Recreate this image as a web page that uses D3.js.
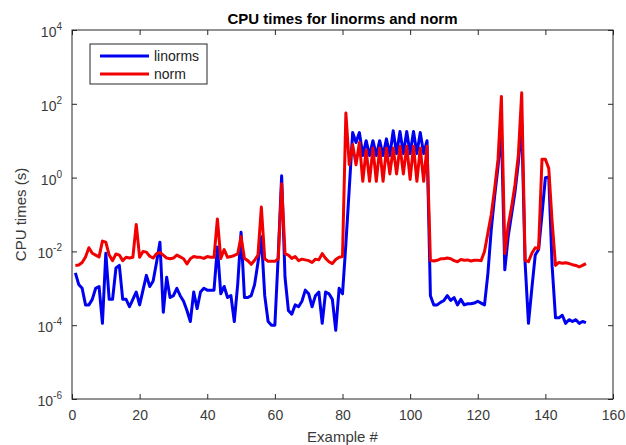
<!DOCTYPE html>
<html>
<head>
<meta charset="utf-8">
<script src="https://cdn.jsdelivr.net/npm/d3@7"></script>
<style>
	body { margin: 0; background: #fff; }
	svg { display: block; }
	text { font-family: "Liberation Sans", Arial, sans-serif; }
</style>
</head>
<body>
<svg id="chart" width="626" height="445"></svg>
<script>
const linormsExp = [
	-2.58, -2.9, -3.0, -3.45, -3.45, -3.3, -3.0, -2.95, -3.95, -2.05,
	-3.3, -3.3, -2.45, -2.38, -3.3, -3.3, -3.5, -3.3, -3.1, -3.45,
	-3.05, -2.65, -2.95, -2.8, -2.3, -1.75, -3.65, -2.7, -3.25, -3.2,
	-3.0, -3.2, -3.35, -3.6, -3.9, -3.1, -3.55, -3.1, -3.0, -3.05,
	-3.05, -3.05, -1.88, -3.15, -2.95, -3.25, -3.2, -3.9, -2.9, -1.48,
	-3.25, -3.25, -3.2, -2.9, -2.3, -1.6, -3.2, -3.9, -4.0, -4.0,
	-2.1, 0.05, -2.7, -3.6, -3.7, -3.45, -3.5, -3.35, -3.05, -3.15,
	-3.5, -3.2, -3.1, -3.95, -3.1, -3.15, -3.3, -4.14, -3.0, -3.15,
	-1.8, -0.3, 1.22, 0.95, 1.22, 0.6, 1.0, 0.6, 1.0, 0.6,
	1.0, 0.6, 1.05, 0.6, 1.27, 0.65, 1.25, 0.65, 1.25, 0.65,
	1.25, 0.65, 1.22, 0.65, 1.0, -3.2, -3.45, -3.45, -3.38, -3.33,
	-3.2, -3.33, -3.25, -3.45, -3.3, -3.45, -3.42, -3.42, -3.4, -3.35,
	-3.4, -3.45, -2.6, -1.4, -0.5, 0.3, 1.3, -2.5, -1.6, -1.0,
	-0.4, 0.4, 1.5, -2.3, -3.95, -3.0, -2.1, -1.95, -1.0, 0.0,
	0.02, -2.4, -3.8, -3.8, -3.73, -3.95, -3.85, -3.9, -3.85, -3.95,
	-3.9, -3.93
];
const normExp = [
	-2.38, -2.37, -2.3, -2.15, -1.9, -2.05, -2.1, -2.15, -1.72, -1.75,
	-2.1, -2.25, -2.07, -2.1, -2.25, -2.16, -2.18, -2.16, -1.27, -2.16,
	-2.0, -2.02, -2.13, -2.18, -2.06, -2.03, -2.1, -2.18, -2.2, -2.18,
	-2.1, -2.15, -2.2, -2.34, -2.2, -2.14, -2.16, -2.16, -2.19, -2.14,
	-2.16, -2.16, -1.12, -2.19, -1.95, -2.16, -2.14, -2.11, -2.07, -1.6,
	-2.19, -2.25, -2.35, -2.24, -2.1, -0.8, -2.2, -2.27, -2.27, -2.27,
	-2.2, -0.17, -2.06, -2.1, -2.19, -2.14, -2.25, -2.21, -2.23, -2.25,
	-2.3, -2.21, -2.23, -2.06, -2.19, -2.28, -2.33, -2.22, -2.16, -2.14,
	1.75, 0.35, 0.9, 0.35, 0.95, -0.1, 0.75, -0.1, 0.8, -0.1,
	0.8, -0.1, 0.8, 0.1, 0.8, 0.1, 0.85, 0.1, 0.85, -0.05,
	0.85, -0.1, 0.8, -0.1, 0.85, -2.24, -2.26, -2.24, -2.2, -2.2,
	-2.18, -2.2, -2.25, -2.28, -2.22, -2.24, -2.23, -2.26, -2.24, -2.24,
	-2.25, -2.0, -1.5, -1.0, -0.3, 0.5, 2.2, -2.06, -1.3, -0.8,
	-0.2, 0.6, 2.3, -2.24, -2.28, -2.05, -1.9, -1.92, 0.5, 0.5,
	0.25, -1.2, -2.38, -2.3, -2.32, -2.31, -2.33, -2.36, -2.38, -2.42,
	-2.38, -2.33
];
const xTicks = [0, 20, 40, 60, 80, 100, 120, 140, 160];
const yTickExps = [-6, -4, -2, 0, 2, 4];
const seriesNames = ['linorms', 'norm'];
const seriesColors = ['#0000f0', '#f00000'];

var svg = d3.select('#chart');
var axisColor = '#262626';
var labelColor = '#3a3a3a';
// plot box (window.top is taken, so prefixed names)
var boxL = 72, boxR = 613, boxT = 30, boxB = 399;

var x = d3.scaleLinear().domain([0, 160]).range([boxL, boxR]);
var y = d3.scaleLog().domain([1e-6, 1e4]).range([boxB, boxT]);

var toPoints = function(exps) {
	return exps.map((e, i) => ({ n: i + 1, v: Math.pow(10, e) }));
};

// plot lines first, frame and ticks on top
var line = d3.line().x(d => x(d.n)).y(d => y(d.v));
[linormsExp, normExp].forEach((exps, k) => {
	svg.append('path')
		.datum(toPoints(exps))
		.attr('fill', 'none')
		.attr('stroke', seriesColors[k])
		.attr('stroke-width', 3)
		.attr('stroke-linejoin', 'round')
		.attr('d', line);
});

var styleAxis = function(g) {
	g.select('.domain').remove();
	g.selectAll('.tick line').attr('stroke', axisColor);
	g.selectAll('.tick text')
		.attr('fill', labelColor)
		.style('font-size', '14px');
};

svg.append('g')
	.attr('transform', 'translate(0,' + boxB + ')')
	.call(d3.axisBottom(x).tickValues(xTicks).tickSize(-5).tickPadding(11))
	.call(styleAxis);
svg.append('g')
	.attr('transform', 'translate(0,' + boxT + ')')
	.call(d3.axisTop(x).tickValues(xTicks).tickSize(-5).tickFormat(''))
	.call(styleAxis);

var yTickVals = yTickExps.map(e => Math.pow(10, e));
svg.append('g')
	.attr('transform', 'translate(' + boxL + ',0)')
	.call(d3.axisLeft(y).tickValues(yTickVals).tickSize(-5).tickFormat(''))
	.call(styleAxis);
svg.append('g')
	.attr('transform', 'translate(' + boxR + ',0)')
	.call(d3.axisRight(y).tickValues(yTickVals).tickSize(-5).tickFormat(''))
	.call(styleAxis);

// 10^n labels with superscript
var yLab = svg.append('g').selectAll('text')
	.data(yTickExps)
	.join('text')
	.attr('x', 62)
	.attr('y', e => y(Math.pow(10, e)) + 7)
	.attr('text-anchor', 'end')
	.attr('fill', labelColor)
	.style('font-size', '14px');
yLab.append('tspan').text('10');
yLab.append('tspan')
	.attr('dy', -7)
	.style('font-size', '10px')
	.text(e => String(e));

svg.append('rect')
	.attr('x', boxL).attr('y', boxT)
	.attr('width', boxR - boxL).attr('height', boxB - boxT)
	.attr('fill', 'none')
	.attr('stroke', axisColor)
	.attr('stroke-width', 1);

svg.append('text')
	.attr('x', (boxL + boxR) / 2).attr('y', 24)
	.attr('text-anchor', 'middle')
	.style('font-size', '15px').style('font-weight', 'bold')
	.attr('fill', '#000')
	.text('CPU times for linorms and norm');

svg.append('text')
	.attr('x', (boxL + boxR) / 2).attr('y', 442)
	.attr('text-anchor', 'middle')
	.style('font-size', '15px')
	.attr('fill', labelColor)
	.text('Example #');

svg.append('text')
	.attr('transform', 'translate(26,' + ((boxT + boxB) / 2) + ') rotate(-90)')
	.attr('text-anchor', 'middle')
	.style('font-size', '15px')
	.attr('fill', labelColor)
	.text('CPU times (s)');

// legend
var legend = svg.append('g').attr('transform', 'translate(90,44)');
legend.append('rect')
	.attr('width', 117).attr('height', 40)
	.attr('fill', '#fff')
	.attr('stroke', axisColor);
seriesNames.forEach((name, k) => {
	var ly = 12 + k * 18;
	legend.append('line')
		.attr('x1', 10).attr('x2', 59)
		.attr('y1', ly).attr('y2', ly)
		.attr('stroke', seriesColors[k])
		.attr('stroke-width', 3);
	legend.append('text')
		.attr('x', 64).attr('y', ly + 5)
		.style('font-size', '14px')
		.attr('fill', '#222')
		.text(name);
});
</script>
</body>
</html>
